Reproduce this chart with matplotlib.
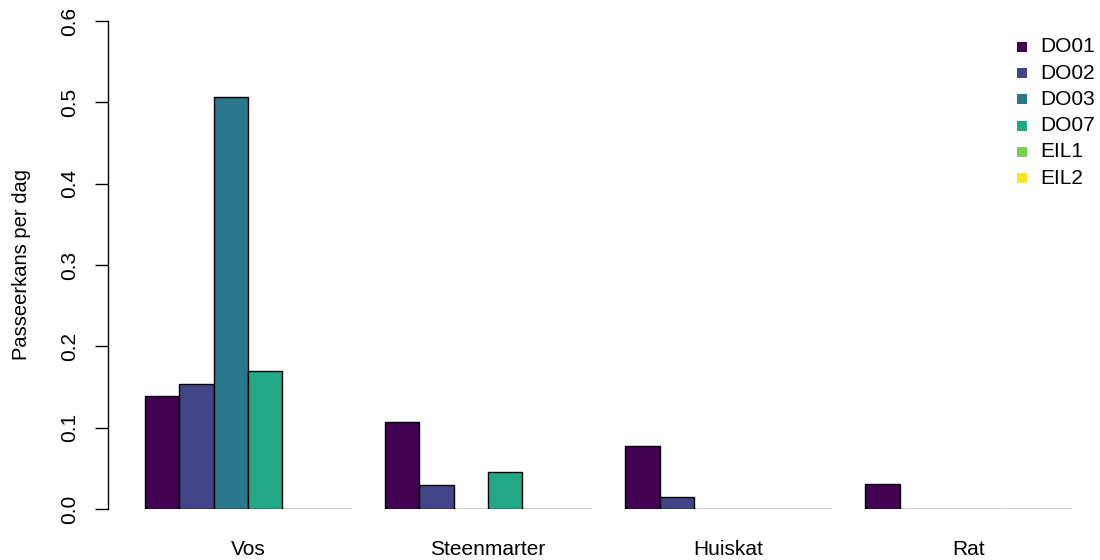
import matplotlib
matplotlib.use("Agg")
import matplotlib.pyplot as plt
import numpy as np

plt.rcParams['font.family'] = ['Liberation Sans', 'DejaVu Sans']

categories = ["Vos", "Steenmarter", "Huiskat", "Rat"]
series = ["DO01", "DO02", "DO03", "DO07", "EIL1", "EIL2"]
DO01 = [0.139, 0.107, 0.077, 0.031]
DO02 = [0.154, 0.030, 0.015, 0.0]
DO03 = [0.507, 0.0, 0.0, 0.0]
DO07 = [0.170, 0.046, 0.0, 0.0]
EIL1 = [0.0, 0.0, 0.0, 0.0]
EIL2 = [0.0, 0.0, 0.0, 0.0]
values = [DO01, DO02, DO03, DO07, EIL1, EIL2]
colors = ["#440154", "#414487", "#2A788E", "#22A884", "#7AD151", "#FDE725"]

W, H = 1100, 560
fig = plt.figure(figsize=(11, 5.6), dpi=100)
unit = 34.3
x0pix = 110.7
xl, xr = -0.08, 29.0
left_pix = x0pix + xl * unit
right_pix = x0pix + xr * unit
ybot, ytop = 509, 21
ax = fig.add_axes([left_pix / W, (H - ybot) / H, (right_pix - left_pix) / W, (ybot - ytop) / H])

n = len(series)
for j, cat in enumerate(categories):
    start = 1 + j * (n + 1)
    for i in range(n):
        ax.bar(start + i, values[i][j], width=1.0, align='edge',
               color=colors[i], edgecolor='black', linewidth=1.0, zorder=2)

fs = 15
centers = [1 + j * (n + 1) + n / 2 for j in range(len(categories))]
ax.set_xticks(centers)
ax.set_xticklabels(categories, fontsize=fs)
ax.tick_params(axis='x', length=0, pad=22)
ax.set_xlim(xl, xr)
ax.set_ylim(0, 0.6)
ax.set_yticks([0, 0.1, 0.2, 0.3, 0.4, 0.5, 0.6])
ax.set_yticklabels(["0.0", "0.1", "0.2", "0.3", "0.4", "0.5", "0.6"], rotation=90, va='center', fontsize=fs)
ax.tick_params(axis='y', length=9.5, width=1, pad=11)
for s in ['top', 'right', 'bottom']:
    ax.spines[s].set_visible(False)
ax.spines['left'].set_linewidth(1)
ax.set_ylabel("Passeerkans per dag", fontsize=14.5)
ax.yaxis.set_label_coords(-(left_pix - 31) / (right_pix - left_pix), 0.5)

# legend
ly0 = 47
for i, (s, c) in enumerate(zip(series, colors)):
    yy = ly0 + i * 26.2
    fig.patches.append(plt.Rectangle(((1022 - 5) / W, (H - yy - 5) / H), 10 / W, 10 / H,
                                     transform=fig.transFigure, facecolor=c, edgecolor='none'))
    fig.text(1040 / W, (H - yy) / H, s, fontsize=fs, va='center', ha='left')

fig.savefig("out.png", dpi=100)
